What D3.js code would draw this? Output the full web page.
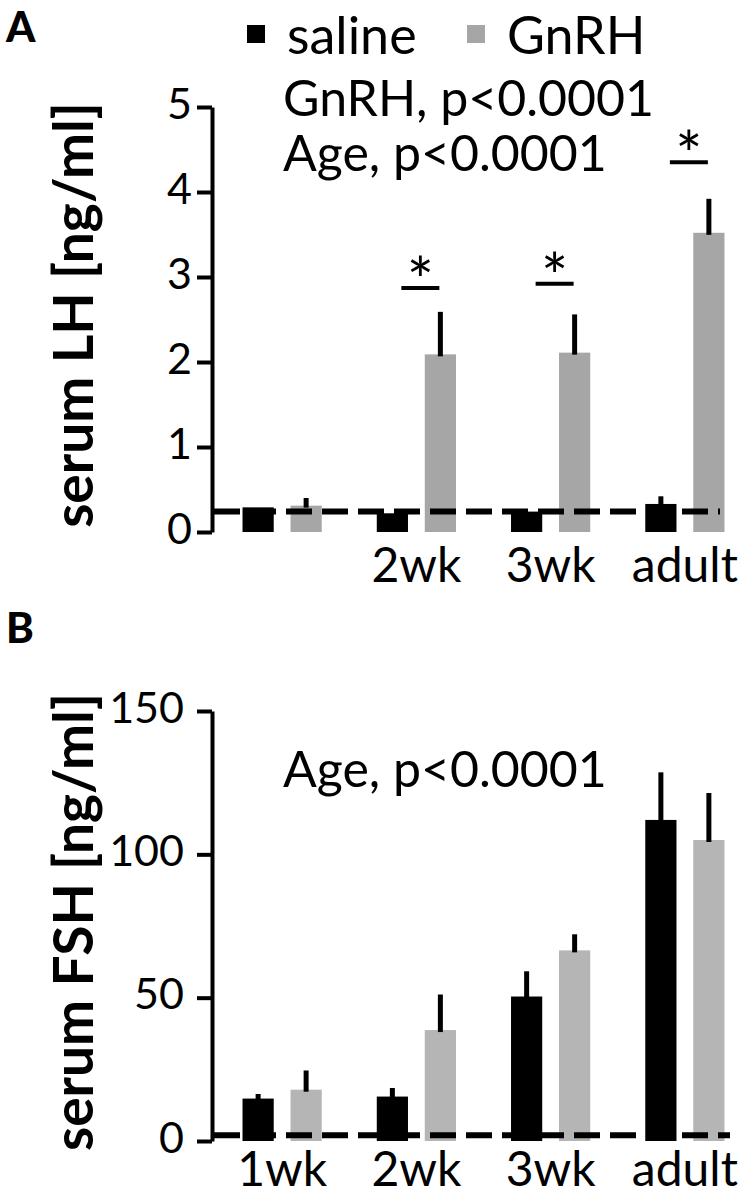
<!DOCTYPE html>
<html>
<head>
<meta charset="utf-8">
<script src="https://cdn.jsdelivr.net/npm/d3@7"></script>
<style>
  html, body { margin: 0; padding: 0; background: #fff; }
  svg { display: block; }
  text { font-family: Lato, "Open Sans", sans-serif; fill: #000; }
</style>
</head>
<body>
<svg id="chart" width="752" height="1200"></svg>
<script>
// ---------- data ----------
const categories = ["1wk", "2wk", "3wk", "adult"];
const lhLabels = ["", "2wk", "3wk", "adult"];
const fshLabels = ["1wk", "2wk", "3wk", "adult"];
const series = ["saline", "GnRH"];

const lhSaline = [0.29, 0.22, 0.24, 0.33];
const lhSalineErr = [0, 0, 0, 0.09];
const lhGnrh = [0.31, 2.09, 2.11, 3.52];
const lhGnrhErr = [0.09, 0.50, 0.45, 0.40];
const lhLimit = 0.24;
const lhSig = [null, 2.87, 2.92, 4.35];
const lhTicks = [0, 1, 2, 3, 4, 5];
const lhStats = ["GnRH, p<0.0001", "Age, p<0.0001"];

const fshSaline = [14.8, 15.5, 50.4, 112.0];
const fshSalineErr = [1.6, 3.0, 8.8, 16.6];
const fshGnrh = [17.9, 38.7, 66.5, 105.0];
const fshGnrhErr = [6.7, 12.4, 5.6, 16.4];
const fshLimit = 2;
const fshTicks = [0, 50, 100, 150];
const fshStats = ["Age, p<0.0001"];

// ---------- drawing ----------
const svg = d3.select("#chart");

const x = d3.scaleBand().domain(categories).range([215, 752]).paddingInner(0).paddingOuter(0);
const xs = d3.scaleBand().domain(series).range([-48, 48]).paddingInner(0.35).paddingOuter(0.175);

function panel(opts) {
  const g = svg.append("g");
  const y = d3.scaleLinear().domain(opts.domain).range(opts.range);
  const rows = categories.map((c, i) => ({
    cat: c,
    vals: [
      { s: "saline", v: opts.saline[i], e: opts.salineErr[i], fill: "#000" },
      { s: "GnRH", v: opts.gnrh[i], e: opts.gnrhErr[i], fill: opts.gray }
    ]
  }));

  // bars
  const grp = g.selectAll("g.cat").data(rows).join("g")
    .attr("transform", d => `translate(${x(d.cat) + x.bandwidth() / 2},0)`);
  grp.selectAll("rect").data(d => d.vals).join("rect")
    .attr("x", d => xs(d.s))
    .attr("width", xs.bandwidth())
    .attr("y", d => y(d.v))
    .attr("height", d => y(0) - y(d.v))
    .attr("fill", d => d.fill);

  // dashed detection-limit line
  g.append("line")
    .attr("x1", 214).attr("x2", opts.limitEnd)
    .attr("y1", y(opts.limit)).attr("y2", y(opts.limit))
    .attr("stroke", "#000").attr("stroke-width", 6)
    .attr("stroke-dasharray", "26,10");

  // error bars (upper only)
  grp.selectAll("line.err").data(d => d.vals.filter(v => v.e > 0)).join("line")
    .attr("class", "err")
    .attr("x1", d => xs(d.s) + xs.bandwidth() / 2)
    .attr("x2", d => xs(d.s) + xs.bandwidth() / 2)
    .attr("y1", d => y(d.v) + 2)
    .attr("y2", d => y(d.v + d.e))
    .attr("stroke", "#000").attr("stroke-width", 5);

  // y axis
  const ax = g.append("g").attr("transform", "translate(212,0)")
    .call(d3.axisLeft(y).tickValues(opts.ticks).tickFormat(d3.format("d"))
      .tickSize(15).tickSizeOuter(0).tickPadding(opts.tickPad));
  ax.select(".domain").attr("stroke", "#000").attr("stroke-width", 4);
  ax.selectAll(".tick line").attr("stroke", "#000").attr("stroke-width", 4);
  ax.selectAll(".tick text")
    .attr("font-size", 43).attr("font-family", "Lato, sans-serif")
    .attr("fill", "#000").attr("dy", "0.26em");

  // x labels
  g.selectAll("text.xl").data(categories).join("text")
    .attr("class", "xl")
    .attr("x", (d) => x(d) + x.bandwidth() / 2)
    .attr("y", opts.xLabelY)
    .attr("text-anchor", "middle")
    .attr("font-size", 48)
    .text((d, i) => opts.labels[i]);

  // y title
  g.append("text")
    .attr("transform", `translate(${opts.titleX},${opts.titleY}) rotate(-90)`)
    .attr("text-anchor", "middle")
    .attr("font-size", 55).attr("font-weight", 700)
    .text(opts.title);

  // stats text
  g.selectAll("text.st").data(opts.stats).join("text")
    .attr("class", "st")
    .attr("x", 283)
    .attr("y", (d, i) => opts.statY[i])
    .attr("font-size", 50)
    .text(d => d);

  // significance marks
  if (opts.sig) {
    const sg = g.selectAll("g.sig").data(categories.map((c, i) => ({ c, v: opts.sig[i] })).filter(d => d.v != null))
      .join("g").attr("class", "sig")
      .attr("transform", d => `translate(${x(d.c) + x.bandwidth() / 2 + 4},${y(d.v)})`);
    sg.append("line").attr("x1", -19).attr("x2", 19).attr("y1", 0).attr("y2", 0)
      .attr("stroke", "#000").attr("stroke-width", 4);
    sg.append("text").attr("x", 0).attr("y", 16).attr("text-anchor", "middle")
      .attr("font-size", 64).text("*");
  }
  return y;
}

panel({
  domain: [0, 5], range: [532, 107], ticks: lhTicks, tickPad: 5,
  saline: lhSaline, salineErr: lhSalineErr, gnrh: lhGnrh, gnrhErr: lhGnrhErr,
  gray: "#a6a6a6", limit: lhLimit, limitEnd: 720,
  labels: lhLabels, xLabelY: 582,
  title: "serum LH [ng/ml]", titleX: 93, titleY: 315,
  stats: lhStats, statY: [116, 171], sig: lhSig
});

panel({
  domain: [0, 150], range: [1141, 711], ticks: fshTicks, tickPad: 13,
  saline: fshSaline, salineErr: fshSalineErr, gnrh: fshGnrh, gnrhErr: fshGnrhErr,
  gray: "#b5b5b5", limit: fshLimit, limitEnd: 730,
  labels: fshLabels, xLabelY: 1186,
  title: "serum FSH [ng/ml]", titleX: 93, titleY: 922,
  stats: fshStats, statY: [787], sig: null
});

// panel letters
svg.append("text").attr("x", 6).attr("y", 42).attr("font-size", 42).attr("font-weight", 900).text("A");
svg.append("text").attr("x", 6).attr("y", 643).attr("font-size", 42).attr("font-weight", 900).text("B");

// legend
const legend = svg.append("g");
const legItems = series.map((s, i) => ({ s, fill: i === 0 ? "#000" : "#a6a6a6", x: [247, 467][i] }));
legend.selectAll("rect").data(legItems).join("rect")
  .attr("x", d => d.x).attr("y", 25).attr("width", 18).attr("height", 18).attr("fill", d => d.fill);
legend.selectAll("text").data(legItems).join("text")
  .attr("x", d => d.x + 40).attr("y", 54).attr("font-size", 52).text(d => d.s);
</script>
</body>
</html>
